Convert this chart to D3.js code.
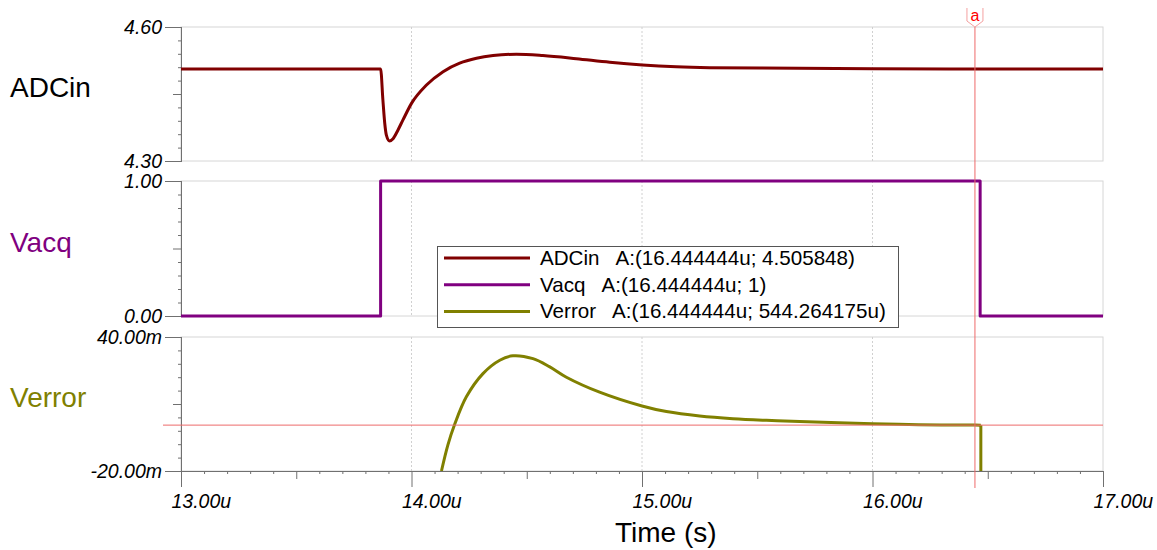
<!DOCTYPE html>
<html>
<head>
<meta charset="utf-8">
<script src="https://cdn.jsdelivr.net/npm/d3@7"></script>
<style>
	body { margin: 0; background: #fff; }
	text { font-family: "Liberation Sans", Arial, sans-serif; }
	.tick-label { font-style: italic; font-size: 19px; fill: #000; }
</style>
</head>
<body>
<svg id="chart" width="1157" height="550"></svg>
<script>
// time in microseconds
var adcTime = [13.0, 13.866, 13.876, 13.884, 13.891, 13.905, 13.92, 13.941, 13.963, 14.0, 14.065, 14.137, 14.209, 14.282, 14.354, 14.455, 14.57, 14.715, 14.86, 15.002, 15.149, 15.294, 15.511, 16.0, 16.5, 17.0]
var adcValue = [4.5058, 4.5058, 4.436, 4.384, 4.358, 4.345, 4.350, 4.369, 4.392, 4.429, 4.470, 4.500, 4.519, 4.530, 4.536, 4.539, 4.536, 4.529, 4.521, 4.515, 4.511, 4.509, 4.508, 4.5066, 4.5058, 4.5058]

var vacqTime = [13.0, 13.866, 13.866, 16.467, 16.467, 17.0]
var vacqValue = [0, 0, 1, 1, 0, 0]

// Verror in mV
var errTime = [14.13, 14.158, 14.187, 14.238, 14.31, 14.383, 14.44, 14.527, 14.6, 14.672, 14.816, 15.0, 15.106, 15.25, 15.395, 15.54, 15.684, 16.0, 16.2, 16.444, 16.47]
var errValue = [-20, -8.3, 0.8, 13.2, 23.6, 29.6, 31.6, 30.3, 26.6, 22.0, 15.3, 9.1, 6.6, 4.6, 3.4, 2.7, 2.2, 1.13, 0.75, 0.544, 0.52]
var errDropTime = 16.47

var xTicks = [13, 14, 15, 16, 17]
var xTickLabels = ['13.00u', '14.00u', '15.00u', '16.00u', '17.00u']
var cursorTime = 16.444444
var cursorErr = 0.544264

var legendNames = ['ADCin', 'Vacq', 'Verror']
var legendReadouts = ['A:(16.444444u; 4.505848)', 'A:(16.444444u; 1)', 'A:(16.444444u; 544.264175u)']
var colors = ['#800000', '#800080', '#808000']

var panels = [
	{name: 'ADCin', domain: [4.30, 4.60], labels: ['4.30', '4.60'], top: 27, bottom: 161, labelY: 97, t: adcTime, v: adcValue, curve: d3.curveMonotoneX},
	{name: 'Vacq', domain: [0, 1], labels: ['0.00', '1.00'], top: 181, bottom: 316, labelY: 252, t: vacqTime, v: vacqValue, curve: d3.curveLinear},
	{name: 'Verror', domain: [-20, 40], labels: ['-20.00m', '40.00m'], top: 337, bottom: 471, labelY: 407, t: errTime, v: errValue, curve: d3.curveCatmullRom.alpha(0.5)}
]

var svg = d3.select('#chart')
var left = 181, right = 1103

var x = d3.scaleLinear().domain([13, 17]).range([left, right])

panels.forEach((p, pi) => {
	var y = d3.scaleLinear().domain(p.domain).range([p.bottom, p.top])
	p.y = y
	var g = svg.append('g')

	// frame
	g.append('rect')
		.attr('x', left).attr('y', p.top)
		.attr('width', right - left).attr('height', p.bottom - p.top)
		.attr('fill', 'none').attr('stroke', '#d6d6d6')

	// dotted vertical grid
	g.selectAll('.grid')
		.data([14, 15, 16])
		.enter()
		.append('line')
			.attr('x1', d => x(d)).attr('x2', d => x(d))
			.attr('y1', p.top).attr('y2', p.bottom)
			.attr('stroke', '#d0d0d0')
			.attr('stroke-dasharray', '2,2')

	// y axis ticks: major with labels, medium, minor
	var d0 = p.domain[0], d1 = p.domain[1], step = (d1 - d0) / 10
	var minor = d3.range(1, 10).filter(i => i != 5).map(i => d0 + i * step)

	g.append('g').attr('transform', 'translate(' + left + ',0)')
		.call(d3.axisLeft(y).tickValues(minor).tickSize(3).tickFormat(''))
	g.append('g').attr('transform', 'translate(' + left + ',0)')
		.call(d3.axisLeft(y).tickValues([d0 + 5 * step]).tickSize(8).tickFormat(''))
	g.append('g').attr('transform', 'translate(' + left + ',0)')
		.call(d3.axisLeft(y).tickValues([d0, d1]).tickSize(16).tickFormat((d, i) => p.labels[i]))
	g.selectAll('.domain').attr('stroke', '#707070')
	g.selectAll('.tick line').attr('stroke', '#707070')
	g.selectAll('.tick text')
		.attr('class', 'tick-label')
		.attr('x', -19)
		.attr('dy', '0.34em')
		.style('font-family', '"Liberation Sans", Arial, sans-serif')
		.style('font-size', '19.5px')

	// series label
	g.append('text')
		.attr('x', 10).attr('y', p.labelY)
		.style('font-size', '28px')
		.attr('fill', pi == 0 ? '#000' : colors[pi])
		.text(p.name)

	// clip + trace
	svg.append('clipPath').attr('id', 'clip' + pi)
		.append('rect')
			.attr('x', left).attr('y', p.top - 2)
			.attr('width', right - left + 2).attr('height', p.bottom - p.top + 4)

	var pts = p.t.map((t, i) => [t, p.v[i]])
	var line = d3.line().x(d => x(d[0])).y(d => y(d[1])).curve(p.curve)
	svg.append('path')
		.datum(pts)
		.attr('clip-path', 'url(#clip' + pi + ')')
		.attr('fill', 'none')
		.attr('stroke', colors[pi])
		.attr('stroke-width', 3)
		.attr('stroke-linejoin', 'round')
		.attr('d', line)
})

// Verror falls off the bottom when Vacq drops
var errPanel = panels[2]
svg.append('line')
	.attr('x1', x(errDropTime)).attr('x2', x(errDropTime))
	.attr('y1', errPanel.y(errValue[errValue.length - 1])).attr('y2', errPanel.bottom)
	.attr('stroke', colors[2]).attr('stroke-width', 3)

// x axis on bottom panel
var bottomY = panels[2].bottom
var xMinor = d3.range(130, 171).filter(i => i % 5 != 0).map(i => i / 10)
var xMed = [13.5, 14.5, 15.5, 16.5]
var xg = svg.append('g')
xg.append('g').attr('transform', 'translate(0,' + bottomY + ')')
	.call(d3.axisBottom(x).tickValues(xMinor).tickSize(3).tickFormat(''))
xg.append('g').attr('transform', 'translate(0,' + bottomY + ')')
	.call(d3.axisBottom(x).tickValues(xMed).tickSize(8).tickFormat(''))
xg.append('g').attr('transform', 'translate(0,' + bottomY + ')')
	.call(d3.axisBottom(x).tickValues(xTicks).tickSize(16).tickFormat((d, i) => xTickLabels[i]))
xg.selectAll('.domain').attr('stroke', '#707070')
xg.selectAll('.tick line').attr('stroke', '#707070')
xg.selectAll('.tick text')
	.attr('class', 'tick-label')
	.attr('text-anchor', 'start')
	.attr('x', -10)
	.attr('y', 37)
	.attr('dy', 0)
	.style('font-family', '"Liberation Sans", Arial, sans-serif')
	.style('font-size', '19.5px')

svg.append('text')
	.attr('x', 615).attr('y', 542)
	.style('font-size', '28px')
	.attr('fill', '#000')
	.text('Time (s)')

// cursor
var yErr = panels[2].y
svg.append('line')
	.attr('x1', 163).attr('x2', right)
	.attr('y1', yErr(cursorErr)).attr('y2', yErr(cursorErr))
	.attr('stroke', '#ee6a6a').attr('stroke-width', 1)
svg.append('line')
	.attr('x1', x(cursorTime)).attr('x2', x(cursorTime))
	.attr('y1', 27).attr('y2', 488)
	.attr('stroke', '#ee6a6a').attr('stroke-width', 1)

var cx = x(cursorTime)
svg.append('path')
	.attr('d', 'M' + (cx - 8) + ',8 L' + (cx - 8) + ',21 L' + cx + ',27 L' + (cx + 8) + ',21 L' + (cx + 8) + ',8')
	.attr('fill', '#fff')
	.attr('stroke', '#f4a0a0')
	.attr('stroke-width', 1)
svg.append('text')
	.attr('x', cx).attr('y', 21)
	.attr('text-anchor', 'middle')
	.style('font-size', '16px')
	.attr('fill', '#ff0000')
	.text('a')

// legend
var leg = svg.append('g')
leg.append('rect')
	.attr('x', 437.5).attr('y', 246.5)
	.attr('width', 461).attr('height', 81)
	.attr('fill', '#fff')
	.attr('stroke', '#555')
legendNames.forEach((n, i) => {
	var ly = 258 + i * 26.7
	leg.append('line')
		.attr('x1', 444).attr('x2', 530)
		.attr('y1', ly).attr('y2', ly)
		.attr('stroke', colors[i]).attr('stroke-width', 3)
	leg.append('text')
		.attr('x', 540).attr('y', ly + 7)
		.style('font-size', '20.6px')
		.attr('fill', '#000')
		.attr('xml:space', 'preserve')
		.text(n + '   ' + legendReadouts[i])
})
</script>
</body>
</html>
